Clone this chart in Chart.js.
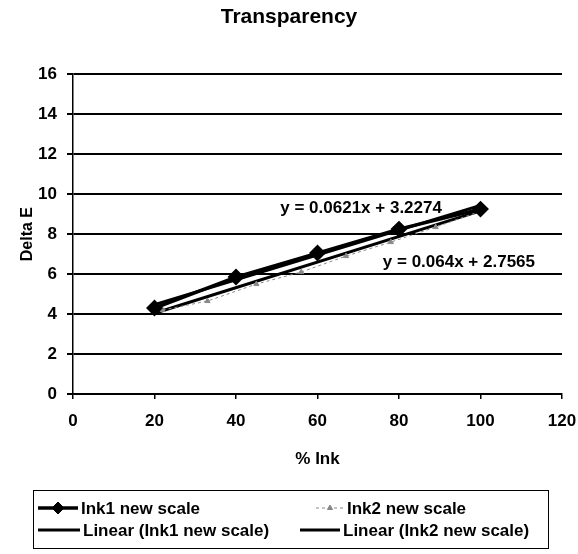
<!DOCTYPE html>
<html>
<head>
<meta charset="utf-8">
<script src="https://cdn.jsdelivr.net/npm/chart.js@4"></script>
<style>
  body { margin: 0; background: #fff; }
  canvas { display: block; }
</style>
</head>
<body>
<canvas id="chart" width="578" height="554"></canvas>
<script>
// values
const inkX = [20, 40, 60, 80, 100];
const ink1Values = [4.3, 5.85, 7.05, 8.25, 9.25];
const ink2X = [22, 33, 45, 56, 67, 78, 89, 100];
const ink2Values = [4.2, 4.65, 5.5, 6.1, 6.9, 7.6, 8.35, 9.15];
const trendX = [20, 100];
const trend1Values = [4.47, 9.44];
const trend2Values = [4.04, 9.16];
const equations = ["y = 0.0621x + 3.2274", "y = 0.064x + 2.7565"];
const seriesNames = ["Ink1 new scale", "Ink2 new scale", "Linear (Ink1 new scale)", "Linear (Ink2 new scale)"];

const FONT = "'Liberation Sans', Arial, sans-serif";

function pts(xs, ys) {
  return xs.map((x, i) => ({ x: x, y: ys[i] }));
}

// equation labels + two-column legend box under the chart
const extrasPlugin = {
  id: "extras",
  afterDraw(chart) {
    const ctx = chart.ctx;
    const xs = chart.scales.x;
    const ys = chart.scales.y;
    ctx.save();
    ctx.fillStyle = "#000";
    ctx.font = "bold 17px " + FONT;
    ctx.textAlign = "center";
    ctx.textBaseline = "middle";
    ctx.fillText(equations[0], xs.getPixelForValue(70.7), ys.getPixelForValue(9.3));
    ctx.fillText(equations[1], xs.getPixelForValue(94.7), ys.getPixelForValue(6.6));

    // legend
    ctx.lineWidth = 1;
    ctx.strokeStyle = "#000";
    ctx.strokeRect(33.5, 490.5, 515, 58);
    const cells = [
      { x: 38, y: 508, w: 40 },
      { x: 316, y: 508, w: 28 },
      { x: 38, y: 530, w: 42 },
      { x: 300, y: 530, w: 40 },
    ];
    ctx.textAlign = "left";
    ctx.font = "bold 17px " + FONT;
    cells.forEach((c, i) => {
      const ds = chart.data.datasets[i];
      ctx.save();
      ctx.strokeStyle = ds.borderColor;
      ctx.lineWidth = ds.borderWidth;
      ctx.setLineDash(ds.borderDash || []);
      ctx.beginPath();
      ctx.moveTo(c.x, c.y);
      ctx.lineTo(c.x + c.w, c.y);
      ctx.stroke();
      ctx.restore();
      if (ds.pointRadius > 0) {
        ctx.save();
        ctx.fillStyle = ds.backgroundColor;
        ctx.strokeStyle = ds.borderColor;
        Chart.helpers.drawPoint(ctx, {
          pointStyle: ds.pointStyle,
          radius: ds.pointRadius,
          borderWidth: 1,
        }, c.x + c.w / 2, c.y);
        ctx.restore();
      }
      ctx.fillStyle = "#000";
      ctx.fillText(seriesNames[i], c.x + c.w + 3, c.y + 1);
    });
    ctx.restore();
  },
};

Chart.defaults.font.family = FONT;

new Chart(document.getElementById("chart"), {
  type: "scatter",
  data: {
    datasets: [
      {
        label: seriesNames[0],
        data: pts(inkX, ink1Values),
        showLine: true,
        borderColor: "#000",
        backgroundColor: "#000",
        borderWidth: 3.5,
        pointStyle: "rectRot",
        pointRadius: 6,
        pointHoverRadius: 6,
      },
      {
        label: seriesNames[1],
        data: pts(ink2X, ink2Values),
        showLine: true,
        borderColor: "#888",
        backgroundColor: "#888",
        borderWidth: 1,
        borderDash: [3, 3],
        pointStyle: "triangle",
        pointRadius: 3,
      },
      {
        label: seriesNames[2],
        data: pts(trendX, trend1Values),
        showLine: true,
        borderColor: "#000",
        borderWidth: 3,
        pointRadius: 0,
      },
      {
        label: seriesNames[3],
        data: pts(trendX, trend2Values),
        showLine: true,
        borderColor: "#000",
        borderWidth: 3,
        pointRadius: 0,
      },
    ],
  },
  options: {
    responsive: false,
    animation: false,
    layout: { padding: { left: 0, right: 0, top: 0, bottom: 74 } },
    plugins: {
      legend: { display: false },
      tooltip: { enabled: false },
      title: {
        display: true,
        text: "Transparency",
        color: "#000",
        font: { size: 21, weight: "bold" },
        padding: { top: 5, bottom: 44 },
      },
    },
    scales: {
      x: {
        type: "linear",
        min: 0,
        max: 120,
        ticks: { stepSize: 20, color: "#000", padding: 12, font: { size: 17, weight: "bold" } },
        grid: { drawOnChartArea: false, drawTicks: true, tickLength: 5, color: "#000", lineWidth: 1.5 },
        border: { color: "#000", width: 1.5 },
        title: {
          display: true,
          text: "% Ink",
          color: "#000",
          font: { size: 17, weight: "bold" },
          padding: { top: 0, bottom: 10 },
        },
        afterFit(scale) {
          scale.height = 86;
          scale.paddingRight = 16;
          scale.paddingLeft = 0;
        },
      },
      y: {
        min: 0,
        max: 16,
        ticks: { stepSize: 2, color: "#000", padding: 10, font: { size: 17, weight: "bold" } },
        grid: { color: "#000", lineWidth: 2, tickLength: 6 },
        border: { color: "#000", width: 1.5 },
        title: {
          display: true,
          text: "Delta E",
          color: "#000",
          font: { size: 16, weight: "bold" },
          padding: { top: 18, bottom: 0 },
        },
        afterFit(scale) { scale.width = 73; },
      },
    },
  },
  plugins: [extrasPlugin],
});
</script>
</body>
</html>
